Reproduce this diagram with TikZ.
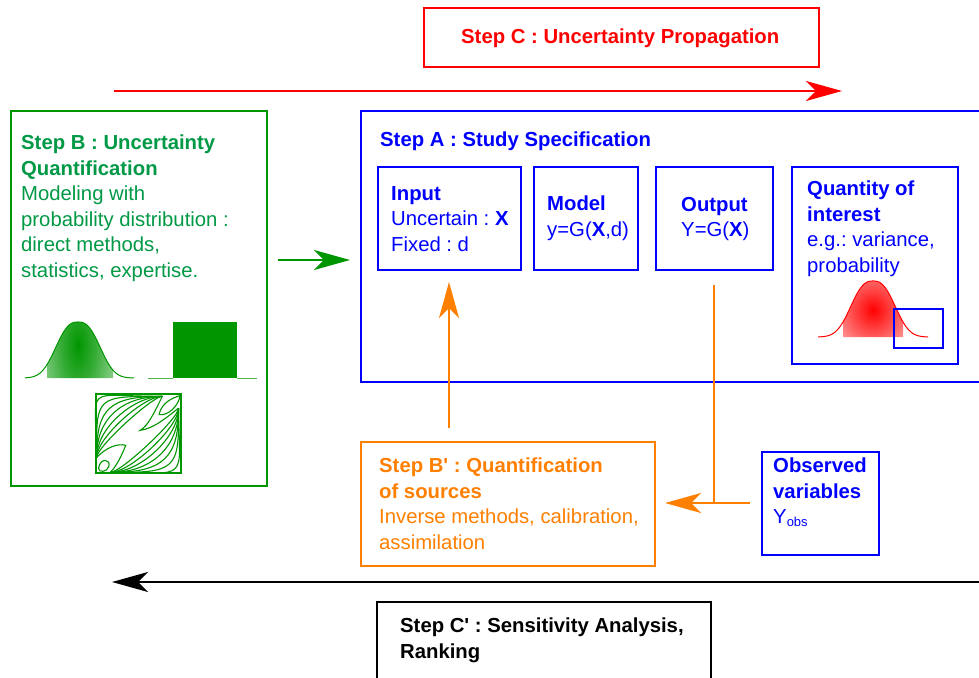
\documentclass[tikz,border=0pt]{standalone}
\usepackage{fontspec}
\newfontfamily\lsans{Liberation Sans}
\usetikzlibrary{arrows.meta}
\definecolor{cgreen}{RGB}{0,150,0}
\definecolor{tgreen}{RGB}{0,153,70}
\definecolor{corange}{RGB}{255,128,0}
\definecolor{cblue}{RGB}{0,0,255}
\definecolor{cred}{RGB}{255,0,0}
\pgfdeclareradialshading{greenbell}{\pgfpoint{0bp}{0bp}}{color(0bp)=(cgreen);color(6bp)=(cgreen!80);color(25bp)=(white);color(50bp)=(white)}
\pgfdeclareradialshading{redbell}{\pgfpoint{0bp}{0bp}}{color(0bp)=(cred);color(9bp)=(cred!65);color(25bp)=(white);color(50bp)=(white)}
\tikzset{
  boxn/.style={draw,line width=2pt,rectangle,inner sep=0pt,outer sep=0pt,anchor=north west},
  txt/.style={inner sep=0pt,anchor=north west,align=left,font=\lsans\frenchspacing\fontsize{20.3}{25.5}\selectfont},
  conn/.style={line width=2pt,-{Stealth[length=36pt,width=20pt,inset=10pt]}},
  plain/.style={line width=1.6pt},
}
\newcommand{\bbox}[6]{\node[boxn,draw=#6,minimum width={(#4-1)*1pt},minimum height={(#5-1)*1pt}] (#1) at ({#2+0.5},{#3+0.5}) {};}
\begin{document}
\begin{tikzpicture}[x=1pt,y=-1pt]
\useasboundingbox (0,0) rectangle (979,677);
\fill[white] (0,0) rectangle (979,677);

% boxes
\bbox{stepC}{423}{8}{396}{59}{cred}
\bbox{stepB}{10}{110}{257}{376}{cgreen}
\bbox{stepA}{360}{110}{625}{272}{cblue}
\bbox{input}{377}{166}{144}{104}{cblue}
\bbox{model}{533}{166}{105}{104}{cblue}
\bbox{output}{655}{166}{118}{104}{cblue}
\bbox{qoi}{791}{166}{167}{198}{cblue}
\bbox{stepBp}{360}{441}{295}{125}{corange}
\bbox{obs}{761}{451}{118}{104}{cblue}
\bbox{stepCp}{376}{601}{335}{82}{black}

% texts
\node[txt,text=cred] (tC) at (461,29) {\textbf{Step C : Uncertainty Propagation}};
\node[txt,text=tgreen] (tB) at (21,135) {\textbf{Step B : Uncertainty}\\\textbf{Quantification}\\Modeling with\\probability distribution :\\direct methods,\\statistics, expertise.};
\node[txt,text=cblue] (tA) at (380,132) {\textbf{Step A : Study Specification}};
\node[txt,text=cblue] (tI) at (391,186) {\textbf{Input}\\Uncertain : \textbf{X}\\Fixed : d};
\node[txt,text=cblue] (tM) at (547,196) {\textbf{Model}\\y=G(\textbf{X},d)};
\node[txt,text=cblue] (tO) at (681,197) {\textbf{Output}\\Y=G(\textbf{X})};
\node[txt,text=cblue] (tQ) at (807,181) {\textbf{Quantity of}\\\textbf{interest}\\e.g.: variance,\\probability};
\node[txt,text=corange] (tBp) at (379,458) {\textbf{Step B' : Quantification}\\\textbf{of sources}\\Inverse methods, calibration,\\assimilation};
\node[txt,text=cblue] (tObs) at (773,458) {\textbf{Observed}\\\textbf{variables}\\Y\raisebox{-3pt}{\fontsize{13}{13}\selectfont obs}};
\node[txt] (tCp) at (400,618) {\textbf{Step C' : Sensitivity Analysis,}\\\textbf{Ranking}};

% connector end points
\coordinate (rs) at (114,91);
\coordinate (re) at (842,91);
\coordinate (gs) at (278,260);
\coordinate (ge) at (350,260);
\coordinate (os) at (449,428);
\coordinate (oe) at (449,282);
\coordinate (ts) at (714,285);
\coordinate (tj) at (714,503);
\coordinate (hs) at (750,503);
\coordinate (he) at (665,503);
\coordinate (ks) at (979,582);
\coordinate (ke) at (112,582);

\draw[conn,color=cred] (rs) -- (re);
\draw[conn,color=cgreen] (gs) -- (ge);
\draw[conn,color=corange] (os) -- (oe);
\draw[plain,color=corange] (ts) -- (tj);
\draw[conn,color=corange] (hs) -- (he);
\draw[conn,color=black] (ks) -- (ke);

% green bell curve
\begin{scope}
  \clip plot[domain=47:113,samples=50] (\x,{378-56*exp(-((abs(\x-78)+0.01)/27)^2.6)}) -- (113,378) -- (47,378) -- cycle;
  \shade[shading=greenbell] (10,185) rectangle (146,505);
\end{scope}
\draw[cgreen,line width=1pt] plot[domain=25:134,samples=70] (\x,{378-56*exp(-((abs(\x-78)+0.01)/27)^2.6)});

% green uniform
\fill[cgreen] (173,322) rectangle (237,378);
\draw[cgreen!70,line width=1pt] (148,378) -- (173,378) (237,378) -- (257,378);

% copula contours
\begin{scope}[shift={(96,473)},x=85pt,y=79pt]
  \draw[cgreen,line width=1.3pt] (0,0) rectangle (1,1);
  \foreach \t in {0.95,0.78,0.62,0.48,0.35,0.23,0.12} {
    \draw[cgreen,line width=1.1pt] (0.01,0.2) .. controls (0.0,{0.2+\t}) and ({0.78-\t},0.97) .. (0.78,0.97);
  }
  \foreach \t in {0.95,0.78,0.62,0.48,0.35,0.23,0.12} {
    \draw[cgreen,line width=1.1pt] (0.17,0.01) .. controls ({0.17+\t},0.0) and (0.98,{0.82-\t}) .. (0.97,0.82);
  }
  \draw[cgreen,line width=1.1pt] (0.01,0.2) .. controls (0.12,0.32) and (0.25,0.38) .. (0.35,0.35) .. controls (0.3,0.22) and (0.25,0.1) .. (0.17,0.01);
  \draw[cgreen,line width=1.1pt] (0.78,0.97) .. controls (0.7,0.8) and (0.62,0.6) .. (0.52,0.54) .. controls (0.68,0.56) and (0.85,0.72) .. (0.97,0.82);
  \draw[cgreen,line width=1.1pt] (0.03,0.06) .. controls (0.05,0.2) and (0.18,0.18) .. (0.15,0.08) .. controls (0.13,0.01) and (0.03,0) .. (0.03,0.06);
  \fill[white,draw=cgreen,line width=1.1pt] (0.74,0.74) .. controls (0.78,0.9) and (0.9,0.95) .. (0.99,0.98) .. controls (0.97,0.85) and (0.85,0.72) .. (0.74,0.74);
\end{scope}

% red bell curve
\begin{scope}
  \clip plot[domain=843:903,samples=50] (\x,{337-56*exp(-((abs(\x-873)+0.01)/27)^2.6)}) -- (903,337) -- (843,337) -- cycle;
  \shade[shading=redbell] (805,238) rectangle (941,382);
\end{scope}
\draw[cred,line width=1pt] plot[domain=818:928,samples=70] (\x,{337-56*exp(-((abs(\x-873)+0.01)/27)^2.6)});
\node[boxn,draw=cblue,minimum width=49pt,minimum height=39pt] (tail) at (894,309) {};
\end{tikzpicture}
\end{document}
